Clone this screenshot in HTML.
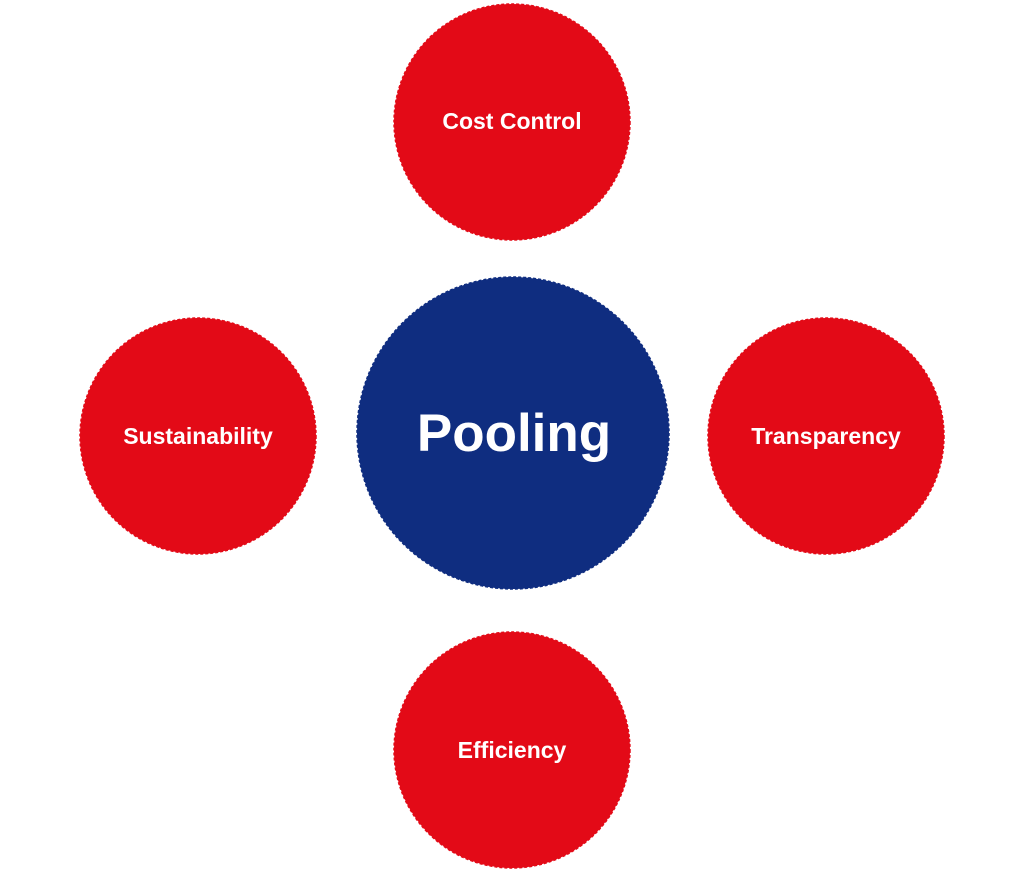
<!DOCTYPE html>
<html><head><meta charset="utf-8"><style>
html,body{margin:0;padding:0;background:#fff;width:1024px;height:872px;overflow:hidden}
</style></head><body>
<svg width="1024" height="872" viewBox="0 0 1024 872" xmlns="http://www.w3.org/2000/svg">
<g font-family="Liberation Sans, Arial, sans-serif" font-weight="bold" fill="#fff" text-anchor="middle">
<circle cx="512" cy="122" r="118" fill="#e30a17" stroke="#e30a17" stroke-width="1.5" stroke-dasharray="3 2"/>
<circle cx="198" cy="436" r="118" fill="#e30a17" stroke="#e30a17" stroke-width="1.5" stroke-dasharray="3 2"/>
<circle cx="826" cy="436" r="118" fill="#e30a17" stroke="#e30a17" stroke-width="1.5" stroke-dasharray="3 2"/>
<circle cx="512" cy="750" r="118" fill="#e30a17" stroke="#e30a17" stroke-width="1.5" stroke-dasharray="3 2"/>
<circle cx="513" cy="433" r="156" fill="#0f2d80" stroke="#0f2d80" stroke-width="1.5" stroke-dasharray="3 2"/>
<text x="512" y="129" font-size="23">Cost Control</text>
<text x="198" y="444" font-size="23">Sustainability</text>
<text x="826" y="444" font-size="23">Transparency</text>
<text x="512" y="758" font-size="23">Efficiency</text>
<text x="514" y="451" font-size="53">Pooling</text>
</g>
</svg>
</body></html>
